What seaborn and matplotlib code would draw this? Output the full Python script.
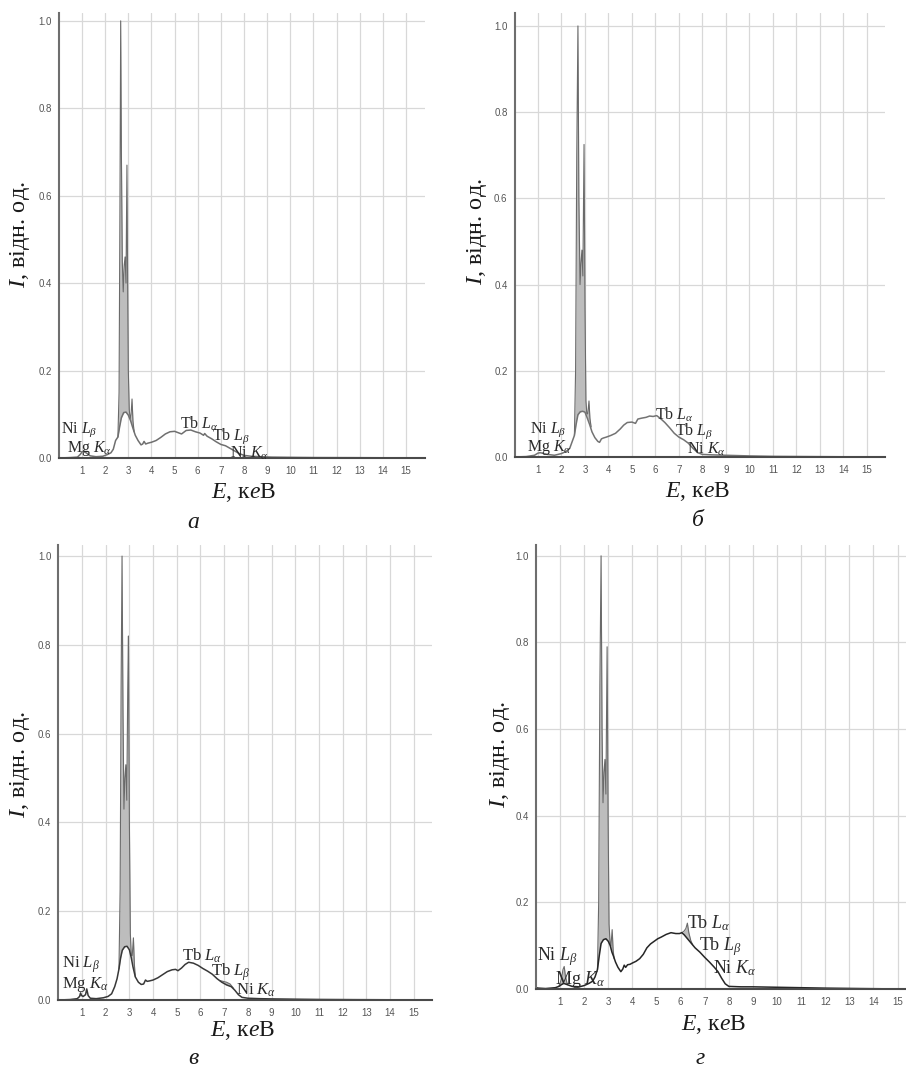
import matplotlib.pyplot as plt
import seaborn as sns

# ---------- panel а ----------
e_a = [0.0, 0.5, 0.8, 0.92, 1.0, 1.08, 1.2, 1.35, 1.6, 1.9, 2.1, 2.25, 2.35, 2.45, 2.55,
       2.62, 2.7, 2.8, 2.9, 3.0, 3.1, 3.2, 3.3, 3.42, 3.55, 3.62, 3.68, 3.75, 3.85, 4.0,
       4.2, 4.4, 4.6, 4.8, 5.0, 5.15, 5.3, 5.5, 5.7, 5.9, 6.1, 6.25, 6.3, 6.4, 6.6, 6.8,
       7.0, 7.2, 7.4, 7.6, 7.8, 8.0, 8.3, 8.7, 9.2, 10.0, 11.0, 12.5, 14.0, 15.8]
i_a = [0.0, 0.001, 0.002, 0.008, 0.014, 0.015, 0.011, 0.005, 0.003, 0.004, 0.008, 0.012,
       0.02, 0.04, 0.048, 0.07, 0.092, 0.104, 0.105, 0.098, 0.085, 0.068, 0.052, 0.04,
       0.03, 0.032, 0.038, 0.032, 0.034, 0.036, 0.04, 0.047, 0.055, 0.06, 0.061, 0.058,
       0.055, 0.063, 0.064, 0.06, 0.057, 0.052, 0.056, 0.05, 0.044, 0.037, 0.031, 0.028,
       0.022, 0.016, 0.01, 0.006, 0.004, 0.003, 0.002, 0.0015, 0.001, 0.0008, 0.0005, 0.0]
pk_e_a = [2.55, 2.6, 2.64, 2.67, 2.7, 2.74, 2.78, 2.82, 2.86, 2.9, 2.94, 2.97, 3.0, 3.04,
          3.08, 3.12, 3.16, 3.2, 3.25]
pk_top_a = [0.048, 0.15, 0.6, 1.0, 0.7, 0.45, 0.38, 0.44, 0.46, 0.4, 0.67, 0.4, 0.2, 0.11,
            0.09, 0.1, 0.135, 0.085, 0.06]
pk_bot_a = [0.048, 0.065, 0.08, 0.088, 0.092, 0.097, 0.101, 0.104, 0.105, 0.105, 0.102,
            0.1, 0.098, 0.093, 0.088, 0.08, 0.073, 0.068, 0.06]
lab_a = [(0.09, 0.064), (0.35, 0.022), (5.23, 0.078), (6.6, 0.05), (7.4, 0.011)]

# ---------- panel б ----------
e_b = [0.0, 0.5, 0.85, 1.0, 1.1, 1.25, 1.4, 1.7, 2.0, 2.2, 2.35, 2.45, 2.55, 2.62, 2.7,
       2.8, 2.9, 3.0, 3.1, 3.2, 3.3, 3.42, 3.55, 3.62, 3.7, 3.78, 3.9, 4.1, 4.3, 4.5,
       4.65, 4.8, 5.0, 5.15, 5.25, 5.4, 5.6, 5.75, 5.9, 6.05, 6.2, 6.4, 6.6, 6.8, 7.0,
       7.2, 7.4, 7.6, 7.8, 8.0, 8.4, 9.0, 10.0, 11.0, 12.5, 14.0, 15.75]
i_b = [0.0, 0.001, 0.004, 0.009, 0.01, 0.008, 0.006, 0.004, 0.008, 0.013, 0.02, 0.035,
       0.05, 0.075, 0.098, 0.105, 0.106, 0.104, 0.09, 0.075, 0.058, 0.045, 0.036, 0.034,
       0.042, 0.044, 0.046, 0.05, 0.055, 0.065, 0.074, 0.08, 0.081, 0.078, 0.088, 0.09,
       0.092, 0.095, 0.094, 0.096, 0.09, 0.08, 0.068, 0.055, 0.046, 0.04, 0.032, 0.02,
       0.01, 0.006, 0.005, 0.004, 0.0025, 0.0015, 0.001, 0.0005, 0.0]
pk_e_b = [2.55, 2.6, 2.65, 2.7, 2.74, 2.79, 2.83, 2.87, 2.91, 2.96, 3.0, 3.04, 3.08, 3.12,
          3.17, 3.21, 3.26]
pk_top_b = [0.05, 0.2, 0.7, 1.0, 0.6, 0.4, 0.45, 0.48, 0.42, 0.725, 0.35, 0.13, 0.1, 0.1,
            0.13, 0.09, 0.07]
pk_bot_b = [0.05, 0.07, 0.09, 0.098, 0.101, 0.104, 0.105, 0.106, 0.106, 0.105, 0.104,
            0.1, 0.095, 0.088, 0.08, 0.074, 0.068]
lab_b = [(0.66, 0.064), (0.53, 0.022), (5.98, 0.099), (6.83, 0.059), (7.34, 0.019)]

# ---------- panel в ----------
e_c = [0.0, 0.5, 0.8, 0.9, 0.94, 0.98, 1.05, 1.15, 1.2, 1.26, 1.35, 1.6, 1.9, 2.1, 2.25,
       2.38, 2.48, 2.56, 2.63, 2.7, 2.8, 2.9, 3.0, 3.08, 3.15, 3.25, 3.38, 3.5, 3.6, 3.68,
       3.75, 3.85, 4.0, 4.2, 4.4, 4.6, 4.8, 4.95, 5.05, 5.2, 5.35, 5.5, 5.7, 5.9, 6.1,
       6.3, 6.5, 6.7, 6.9, 7.1, 7.3, 7.45, 7.6, 7.75, 8.0, 8.5, 9.0, 10.0, 11.0, 12.5,
       14.0, 15.77]
i_c = [0.0, 0.001, 0.003, 0.008, 0.016, 0.01, 0.008, 0.012, 0.025, 0.01, 0.004, 0.003,
       0.005, 0.008, 0.014, 0.03, 0.048, 0.07, 0.095, 0.112, 0.12, 0.121, 0.113, 0.095,
       0.075, 0.052, 0.04, 0.035, 0.036, 0.045, 0.042, 0.043, 0.045, 0.05, 0.057, 0.064,
       0.068, 0.069, 0.066, 0.072, 0.08, 0.085, 0.083, 0.078, 0.071, 0.065, 0.058, 0.048,
       0.04, 0.034, 0.03, 0.022, 0.012, 0.006, 0.004, 0.003, 0.0025, 0.0018, 0.0012,
       0.0008, 0.0005, 0.0]
pk_e_c = [2.56, 2.61, 2.65, 2.69, 2.73, 2.77, 2.81, 2.85, 2.89, 2.93, 2.96, 3.0, 3.04,
          3.08, 3.12, 3.17, 3.21, 3.25]
pk_top_c = [0.07, 0.25, 0.7, 1.0, 0.65, 0.43, 0.5, 0.53, 0.45, 0.7, 0.82, 0.4, 0.15, 0.1,
            0.1, 0.14, 0.08, 0.052]
pk_bot_c = [0.07, 0.088, 0.1, 0.11, 0.115, 0.118, 0.12, 0.121, 0.121, 0.118, 0.115,
            0.113, 0.105, 0.095, 0.085, 0.072, 0.062, 0.052]
lb_e_c = [6.8, 6.95, 7.1, 7.25, 7.4]
lb_top_c = [0.044, 0.042, 0.04, 0.036, 0.026]
lb_bot_c = [0.044, 0.038, 0.034, 0.031, 0.026]
lab_c = [(0.14, 0.08), (0.14, 0.034), (5.22, 0.099), (6.43, 0.063), (7.5, 0.022)]

# ---------- panel г ----------
e_d = [0.0, 0.1, 0.4, 0.8, 0.95, 1.05, 1.15, 1.3, 1.5, 1.8, 2.0, 2.2, 2.35, 2.45, 2.55,
       2.62, 2.7, 2.8, 2.9, 3.0, 3.08, 3.15, 3.22, 3.3, 3.4, 3.52, 3.6, 3.66, 3.72, 3.8,
       3.9, 4.0, 4.15, 4.3, 4.45, 4.6, 4.75, 4.9, 5.05, 5.2, 5.4, 5.6, 5.8, 5.95, 6.05,
       6.15, 6.3, 6.45, 6.6, 6.8, 7.0, 7.2, 7.4, 7.55, 7.7, 7.85, 8.0, 8.5, 9.0, 10.0,
       11.0, 12.0, 13.5, 15.35]
i_d = [0.003, 0.002, 0.001, 0.003, 0.006, 0.01, 0.013, 0.01, 0.006, 0.005, 0.008, 0.013,
       0.018, 0.028, 0.045, 0.075, 0.105, 0.114, 0.116, 0.11, 0.1, 0.085, 0.075, 0.062,
       0.05, 0.04, 0.046, 0.055, 0.05, 0.056, 0.057, 0.06, 0.064, 0.07, 0.08, 0.095,
       0.104, 0.11, 0.116, 0.12, 0.126, 0.13, 0.128, 0.128, 0.13, 0.125, 0.115, 0.105,
       0.095, 0.085, 0.073, 0.062, 0.05, 0.04, 0.025, 0.012, 0.006, 0.005, 0.005, 0.004,
       0.003, 0.002, 0.001, 0.0]
pk_e_d = [2.55, 2.6, 2.65, 2.7, 2.74, 2.78, 2.82, 2.86, 2.9, 2.95, 2.99, 3.03, 3.07, 3.11,
          3.16, 3.2, 3.24]
pk_top_d = [0.045, 0.2, 0.7, 1.0, 0.6, 0.43, 0.5, 0.53, 0.45, 0.79, 0.4, 0.15, 0.11, 0.1,
            0.137, 0.09, 0.07]
pk_bot_d = [0.045, 0.07, 0.095, 0.105, 0.11, 0.113, 0.114, 0.115, 0.116, 0.112, 0.11,
            0.105, 0.1, 0.09, 0.085, 0.078, 0.07]
mg_e_d = [0.95, 1.05, 1.12, 1.17, 1.22, 1.3]
mg_top_d = [0.006, 0.022, 0.045, 0.052, 0.03, 0.01]
mg_bot_d = [0.006, 0.01, 0.012, 0.013, 0.012, 0.01]
tb_e_d = [6.05, 6.15, 6.22, 6.28, 6.34, 6.42, 6.5]
tb_top_d = [0.13, 0.134, 0.14, 0.152, 0.13, 0.112, 0.102]
tb_bot_d = [0.13, 0.125, 0.12, 0.116, 0.111, 0.107, 0.102]
lab_d = [(0.03, 0.075), (0.79, 0.021), (6.26, 0.152), (6.78, 0.097), (7.36, 0.049)]

line_names = ['Ni $L_\\beta$', 'Mg $K_\\alpha$', 'Tb $L_\\alpha$', 'Tb $L_\\beta$',
              'Ni $K_\\alpha$']
yticks = [0.0, 0.2, 0.4, 0.6, 0.8, 1.0]
ytick_labels = ['0.0', '0.2', '0.4', '0.6', '0.8', '1.0']
xticks = list(range(1, 16))
panel_letters = ['а', 'б', 'в', 'г']

W, H = 906, 1071
SERIF = 'Liberation Serif'


def px(x, y):
    """pixel position -> figure fraction"""
    return x / W, 1 - y / H


def add_panel(fig, box, xmax, ymax):
    left, right, top, bottom = box
    ax = fig.add_axes([left / W, 1 - bottom / H, (right - left) / W, (bottom - top) / H])
    ax.set_xlim(0, xmax)
    ax.set_ylim(0, ymax)
    ax.set_xticks(xticks)
    ax.set_yticks(yticks)
    ax.set_yticklabels(ytick_labels)
    ax.grid(True, color='#d8d8d8', lw=0.9)
    ax.set_axisbelow(True)
    ax.spines['top'].set_visible(False)
    ax.spines['right'].set_visible(False)
    ax.spines['left'].set_color('#6e6e6e')
    ax.spines['left'].set_linewidth(1.5)
    ax.spines['bottom'].set_color('#4a4a4a')
    ax.spines['bottom'].set_linewidth(1.5)
    ax.tick_params(axis='x', length=0, pad=6, labelsize=7, labelcolor='#555555')
    ax.tick_params(axis='y', length=3, width=0.8, color='#6e6e6e', pad=2,
                   labelsize=7, labelcolor='#555555')
    return ax


def draw_spectrum(ax, e, i, fills, color, lw):
    for fe, ft, fb in fills:
        ax.fill_between(fe, fb, ft, color='#bdbdbd', lw=0)
        sns.lineplot(x=fe, y=ft, ax=ax, color='#6a6a6a', lw=0.8, estimator=None, sort=False)
    sns.lineplot(x=e, y=i, ax=ax, color=color, lw=lw, estimator=None, sort=False)
    ax.set_xlabel('')
    ax.set_ylabel('')


def main():
    sns.set_theme(style='whitegrid')
    plt.rcParams['font.family'] = ['Liberation Sans', 'DejaVu Sans']
    plt.rcParams['mathtext.fontset'] = 'custom'
    plt.rcParams['mathtext.rm'] = SERIF
    plt.rcParams['mathtext.it'] = SERIF + ':italic'
    plt.rcParams['mathtext.bf'] = SERIF + ':bold'

    fig = plt.figure(figsize=(9.06, 10.71), dpi=100)
    fig.patch.set_facecolor('white')

    panels = [
        dict(box=(58.9, 425, 13, 458), xmax=15.82, ymax=1.018, e=e_a, i=i_a,
             fills=[(pk_e_a, pk_top_a, pk_bot_a)], color='#6f6f6f', lw=1.1,
             labels=lab_a, fs=11.5, ylab=(20, 235), xlab=(243, 493), letter=(193, 522)),
        dict(box=(514.5, 885, 13, 457), xmax=15.77, ymax=1.03, e=e_b, i=i_b,
             fills=[(pk_e_b, pk_top_b, pk_bot_b)], color='#737373', lw=1.1,
             labels=lab_b, fs=11.5, ylab=(477, 232), xlab=(697, 492), letter=(698, 520)),
        dict(box=(58.3, 432, 545, 1000), xmax=15.77, ymax=1.025, e=e_c, i=i_c,
             fills=[(pk_e_c, pk_top_c, pk_bot_c), (lb_e_c, lb_top_c, lb_bot_c)],
             color='#383838', lw=1.1, labels=lab_c, fs=12, ylab=(20, 765),
             xlab=(242, 1030), letter=(193, 1058)),
        dict(box=(536, 906, 545, 989), xmax=15.35, ymax=1.025, e=e_d, i=i_d,
             fills=[(pk_e_d, pk_top_d, pk_bot_d), (mg_e_d, mg_top_d, mg_bot_d),
                    (tb_e_d, tb_top_d, tb_bot_d)],
             color='#262626', lw=1.1, labels=lab_d, fs=13, ylab=(500, 755),
             xlab=(713, 1025), letter=(700, 1058)),
    ]

    for p, letter in zip(panels, panel_letters):
        ax = add_panel(fig, p['box'], p['xmax'], p['ymax'])
        draw_spectrum(ax, p['e'], p['i'], p['fills'], p['color'], p['lw'])
        for (x, y), name in zip(p['labels'], line_names):
            ax.text(x, y, name, family=SERIF, fontsize=p['fs'], color='#2a2a2a',
                    ha='left', va='center')
        fig.text(*px(*p['ylab']), '$I$, відн. од.', family=SERIF, fontsize=17.5,
                 rotation=90, ha='center', va='center', color='#1a1a1a')
        fig.text(*px(*p['xlab']), '$E$, к$e$В', family=SERIF, fontsize=17,
                 ha='center', va='center', color='#1a1a1a')
        fig.text(*px(*p['letter']), letter, family=SERIF, fontsize=17,
                 style='italic', ha='center', va='center', color='#1a1a1a')

    fig.savefig('out.png', dpi=100)


if __name__ == '__main__':
    main()
